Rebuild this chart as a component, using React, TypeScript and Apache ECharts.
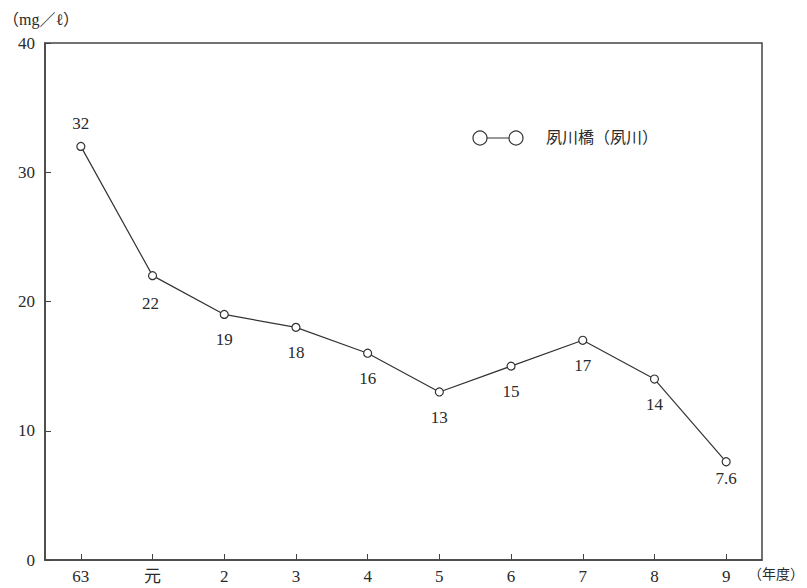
import React, { useEffect, useRef } from "react";
import * as echarts from "echarts";

const categories = ["63", "元", "2", "3", "4", "5", "6", "7", "8", "9"];
const values = [32, 22, 19, 18, 16, 13, 15, 17, 14, 7.6];
const labelPositions = ["top", "bottom", "bottom", "bottom", "bottom", "bottom", "bottom", "bottom", "bottom", "bottom"];
const yTicks = [0, 10, 20, 30, 40];
const seriesName = "夙川橋（夙川）";
const yUnit = "（mg／ℓ）";
const xUnit = "（年度）";

const SERIF = "'Liberation Serif', 'DejaVu Serif', 'Noto Sans CJK JP', serif";
const CJK = "'Noto Sans CJK JP', sans-serif";
const INK = "#2a2a2a";

export default function App() {
  const ref = useRef<HTMLDivElement>(null);
  useEffect(() => {
    if (!ref.current) return;
    const chart = echarts.init(ref.current, null, { renderer: "svg" });
    chart.setOption({
      animation: false,
      backgroundColor: "#ffffff",
      grid: {
        left: 45,
        right: 45,
        top: 43,
        bottom: 28,
        show: true,
        borderColor: "#444",
        borderWidth: 1.5,
        containLabel: false,
      },
      xAxis: {
        type: "category",
        data: categories,
        boundaryGap: true,
        axisLine: { show: true, lineStyle: { color: "#444", width: 1.5 } },
        axisTick: { show: true, inside: true, alignWithLabel: true, length: 6, lineStyle: { color: "#444" } },
        axisLabel: { color: INK, fontFamily: SERIF, fontSize: 17, margin: 8 },
        splitLine: { show: false },
      },
      yAxis: {
        type: "value",
        min: 0,
        max: 40,
        interval: 10,
        axisLine: { show: true, lineStyle: { color: "#444", width: 1.5 } },
        axisTick: { show: true, inside: true, length: 6, lineStyle: { color: "#444" } },
        axisLabel: {
          color: INK,
          fontFamily: SERIF,
          fontSize: 17,
          margin: 10,
          formatter: (v: number) => (yTicks.includes(v) ? String(v) : ""),
        },
        splitLine: { show: false },
      },
      series: [
        {
          name: seriesName,
          type: "line",
          data: values.map((v, i) => ({
            value: v,
            label: {
              position: labelPositions[i],
              distance: labelPositions[i] === "top" ? 10 : i === 9 ? 4 : i === 1 ? 15 : 12,
              offset: i === 1 ? [-2, 0] : [0, 0],
            },
          })),
          symbol: "circle",
          symbolSize: 8,
          showAllSymbol: true,
          itemStyle: { color: "#ffffff", borderColor: "#333", borderWidth: 1.2 },
          lineStyle: { color: "#333", width: 1.2 },
          label: {
            show: true,
            color: INK,
            fontFamily: SERIF,
            fontSize: 17,
            formatter: (p: any) => String(p.value),
          },
        },
      ],
      graphic: [
        {
          type: "text",
          left: 3,
          top: 11,
          style: { text: yUnit, fill: INK, font: `16px ${SERIF}` },
        },
        {
          type: "text",
          left: 748,
          top: 566,
          style: { text: xUnit, fill: INK, font: `14px ${CJK}` },
        },
        {
          type: "line",
          shape: { x1: 480, y1: 138, x2: 516, y2: 138 },
          style: { stroke: "#333", lineWidth: 1.2 },
        },
        {
          type: "circle",
          shape: { cx: 480, cy: 138, r: 7 },
          style: { fill: "#fff", stroke: "#333", lineWidth: 1.2 },
        },
        {
          type: "circle",
          shape: { cx: 516, cy: 138, r: 7 },
          style: { fill: "#fff", stroke: "#333", lineWidth: 1.2 },
        },
        {
          type: "text",
          left: 546,
          top: 128,
          style: { text: seriesName, fill: INK, font: `16px ${CJK}` },
        },
      ],
    });
    return () => chart.dispose();
  }, []);
  return <div ref={ref} style={{ width: 807, height: 588, position: "absolute", left: 0, top: 0 }} />;
}
